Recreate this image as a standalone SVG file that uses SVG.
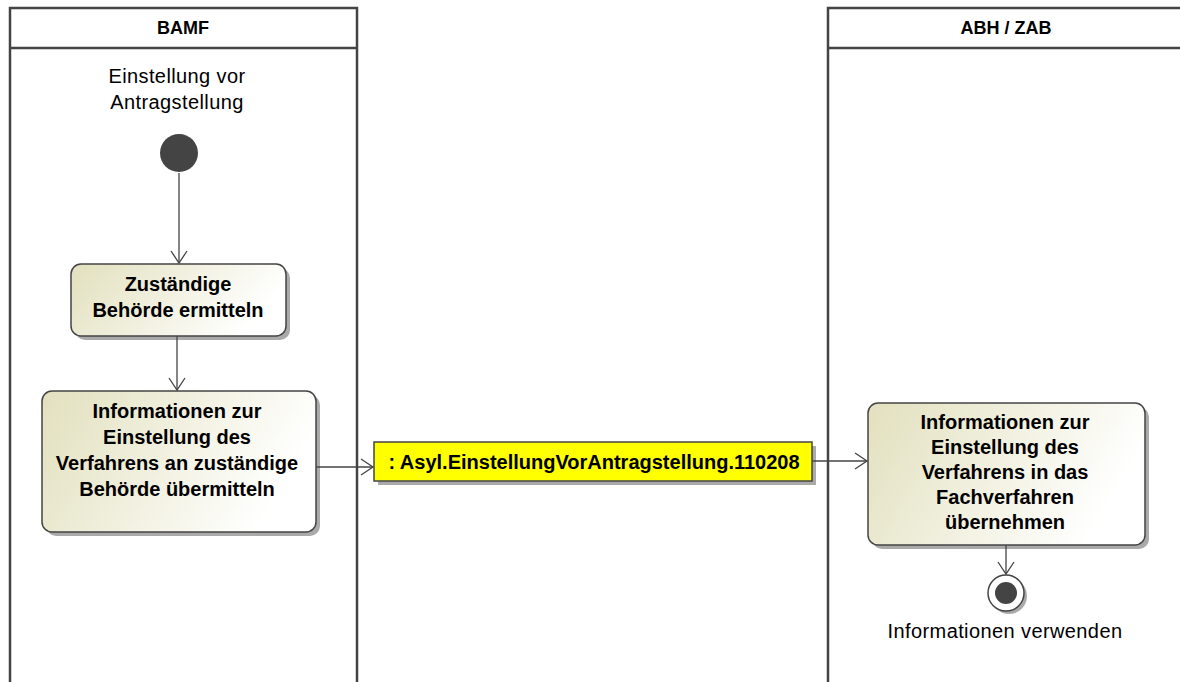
<svg xmlns="http://www.w3.org/2000/svg" width="1180" height="682" viewBox="0 0 1180 682">
<style>
.lane{fill:none;stroke:#444;stroke-width:2.5}
.hdr{font-family:"Liberation Sans",Arial,sans-serif;font-weight:bold;font-size:18px;fill:#000;text-anchor:middle}
.act{fill:url(#g);stroke:#444;stroke-width:1.5}
.sh{fill:#aaa}
.t{font-family:"Liberation Sans",Arial,sans-serif;font-weight:bold;font-size:20px;fill:#000;text-anchor:middle}
.r{font-family:"Liberation Sans",Arial,sans-serif;font-size:20px;letter-spacing:0.4px;fill:#000;text-anchor:middle}
.c{fill:none;stroke:#444;stroke-width:1.3}
</style>
<defs>
<linearGradient id="g" x1="0" y1="0" x2="1" y2="0.3">
<stop offset="0" stop-color="#e2e0bd"/>
<stop offset="1" stop-color="#ffffff"/>
</linearGradient>
<marker id="a" markerWidth="16" markerHeight="18" refX="13" refY="9" orient="auto" markerUnits="userSpaceOnUse">
<path d="M1,1 L13,9 L1,17" fill="none" stroke="#444" stroke-width="1.3"/>
</marker>
</defs>
<rect width="1180" height="682" fill="#fff"/>
<g id="lane-bamf">
<path class="lane" d="M10,690 V8 H357 V690 M10,48 H357"/>
<text class="hdr" x="183" y="34">BAMF</text>
</g>
<g id="lane-abh">
<path class="lane" d="M828,690 V8 H1190 M828,48 H1190"/>
<text class="hdr" x="1006" y="34">ABH / ZAB</text>
</g>
<g id="start">
<text class="r" x="177" y="83">Einstellung vor</text>
<text class="r" x="177" y="109">Antragstellung</text>
<circle cx="179" cy="153" r="19" fill="#444"/>
</g>
<g id="n1">
<rect class="sh" x="75" y="268" width="215" height="72" rx="10"/>
<rect class="act" x="71" y="264" width="215" height="72" rx="10"/>
<text class="t" x="178" y="291">Zuständige</text>
<text class="t" x="178" y="317">Behörde ermitteln</text>
</g>
<g id="n2">
<rect class="sh" x="46" y="395" width="274" height="141" rx="10"/>
<rect class="act" x="42" y="391" width="274" height="141" rx="10"/>
<text class="t" x="177" y="418">Informationen zur</text>
<text class="t" x="177" y="444">Einstellung des</text>
<text class="t" x="177" y="470">Verfahrens an zuständige</text>
<text class="t" x="177" y="496">Behörde übermitteln</text>
</g>
<g id="obj">
<rect class="sh" x="378" y="446" width="438" height="39"/>
<rect x="374" y="442" width="438" height="39" fill="#ffff00" stroke="#444" stroke-width="1.5"/>
<text class="t" x="594" y="469">: Asyl.EinstellungVorAntragstellung.110208</text>
</g>
<g id="n3">
<rect class="sh" x="872" y="407" width="277" height="142" rx="10"/>
<rect class="act" x="868" y="403" width="277" height="142" rx="10"/>
<text class="t" x="1005" y="429">Informationen zur</text>
<text class="t" x="1005" y="454">Einstellung des</text>
<text class="t" x="1005" y="479">Verfahrens in das</text>
<text class="t" x="1005" y="504">Fachverfahren</text>
<text class="t" x="1005" y="529">übernehmen</text>
</g>
<g id="end">
<circle cx="1009" cy="596" r="18" fill="#aaa"/>
<circle cx="1006" cy="593" r="18" fill="#fff" stroke="#444" stroke-width="1.5"/>
<circle cx="1006" cy="593" r="11" fill="#444"/>
<text class="r" x="1005" y="638">Informationen verwenden</text>
</g>
<g id="connectors">
<line class="c" x1="179" y1="173" x2="179" y2="263" marker-end="url(#a)"/>
<line class="c" x1="177" y1="336" x2="177" y2="390" marker-end="url(#a)"/>
<line class="c" x1="316" y1="467" x2="373" y2="467" marker-end="url(#a)"/>
<line class="c" x1="812" y1="461" x2="867" y2="461" marker-end="url(#a)"/>
<line class="c" x1="1006" y1="545" x2="1006" y2="574" marker-end="url(#a)"/>
</g>
</svg>
